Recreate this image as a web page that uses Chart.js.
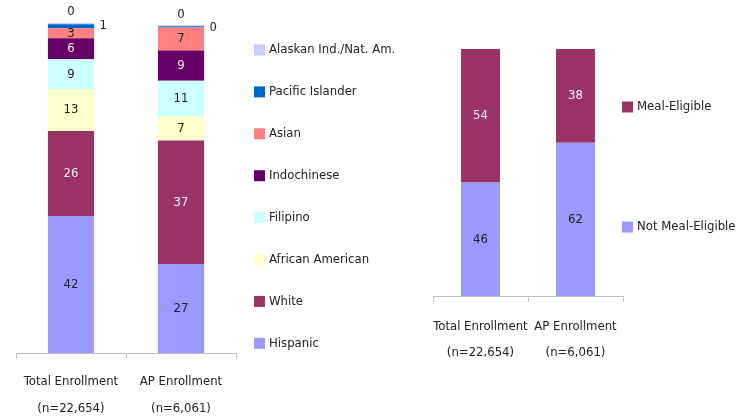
<!DOCTYPE html>
<html>
<head>
<meta charset="utf-8">
<script src="https://cdn.jsdelivr.net/npm/chart.js@4.4.1/dist/chart.umd.min.js"></script>
<style>
  html, body { margin: 0; padding: 0; background: #fff; overflow: hidden; width: 740px; height: 416px; }
  #left { position: absolute; left: 0; top: 0; }
  #right { position: absolute; left: 400px; top: 0; }
</style>
</head>
<body>
<canvas id="left" width="420" height="440"></canvas>
<canvas id="right" width="340" height="440"></canvas>
<script>
// categories (same two groups in both charts)
const groups = [['Total Enrollment', '(n=22,654)'], ['AP Enrollment', '(n=6,061)']];

// ethnicity shares, % (bottom to top of the stack)
const hispanic    = [41.5, 27.0];
const white       = [25.8, 37.4];
const africanAm   = [12.6, 7.3];
const filipino    = [9.1, 10.8];
const indochinese = [6.4, 9.2];
const asian       = [3.0, 6.9];
const pacificIsl  = [1.2, 0.4];
const alaskan     = [0.4, 0.3];

// meal eligibility, %
const notMealEligible = [46, 62];
const mealEligible    = [54, 38];

const FONT = '"DejaVu Sans Condensed", "Liberation Sans", sans-serif';
const FSIZE = 13;
const DARK = '#222222';
const LIGHT = '#f6eef3';

// value labels drawn on each segment
const segmentLabels = {
  id: 'segmentLabels',
  afterDatasetsDraw(chart) {
    const ctx = chart.ctx;
    ctx.save();
    ctx.font = FSIZE + 'px ' + FONT;
    ctx.textAlign = 'center';
    ctx.textBaseline = 'middle';
    chart.data.datasets.forEach((ds, i) => {
      const meta = chart.getDatasetMeta(i);
      meta.data.forEach((bar, j) => {
        const txt = String(Math.round(ds.data[j]));
        let x = bar.x, y = (bar.y + bar.base) / 2;
        ctx.fillStyle = ds.labelColor || DARK;
        if (ds.labelPos === 'above') {
          y = bar.y - 11;
          ctx.fillStyle = DARK;
        } else if (ds.labelPos === 'right') {
          x = bar.x + bar.width / 2 + 9;
          y = bar.y + 1;
          ctx.fillStyle = DARK;
        }
        ctx.fillText(txt, x, y);
      });
    });
    ctx.restore();
  }
};

// legend with fixed row spacing, top row = last dataset
const sideLegend = {
  id: 'sideLegend',
  afterDraw(chart, args, opts) {
    const ctx = chart.ctx;
    const n = chart.data.datasets.length;
    ctx.save();
    ctx.font = FSIZE + 'px ' + FONT;
    ctx.textBaseline = 'middle';
    ctx.textAlign = 'left';
    for (let k = 0; k < n; k++) {
      const ds = chart.data.datasets[n - 1 - k];
      const y = opts.top + k * opts.gap;
      ctx.fillStyle = ds.backgroundColor;
      ctx.fillRect(opts.x, y - 5.5, 11, 11);
      ctx.fillStyle = DARK;
      ctx.fillText(ds.label, opts.x + 15, y);
    }
    ctx.restore();
  }
};

function xAxis(lineH, pad) {
  return {
    stacked: true,
    offset: true,
    grid: { display: true, offset: true, drawOnChartArea: false, tickLength: 6, color: '#bfbfbf' },
    border: { display: true, color: '#bfbfbf' },
    ticks: { color: DARK, padding: pad, maxRotation: 0, autoSkip: false,
             font: { family: FONT, size: FSIZE, lineHeight: lineH } }
  };
}

new Chart(document.getElementById('left'), {
  type: 'bar',
  data: {
    labels: groups,
    datasets: [
      { label: 'Hispanic', data: hispanic, backgroundColor: '#9999ff' },
      { label: 'White', data: white, backgroundColor: '#993366', labelColor: LIGHT },
      { label: 'African American', data: africanAm, backgroundColor: '#ffffcc' },
      { label: 'Filipino', data: filipino, backgroundColor: '#ccffff' },
      { label: 'Indochinese', data: indochinese, backgroundColor: '#660066', labelColor: LIGHT },
      { label: 'Asian', data: asian, backgroundColor: '#ff8080' },
      { label: 'Pacific Islander', data: pacificIsl, backgroundColor: '#0066cc', labelPos: 'right' },
      { label: 'Alaskan Ind./Nat. Am.', data: alaskan, backgroundColor: '#ccccff', labelPos: 'above' }
    ]
  },
  options: {
    responsive: false,
    animation: false,
    events: [],
    datasets: { bar: { barPercentage: 0.42, categoryPercentage: 1 } },
    layout: { padding: { left: 16, right: 184, top: 23, bottom: 9 } },
    scales: {
      x: xAxis(27 / FSIZE, 9),
      y: { stacked: true, display: false, min: 0, max: 100 }
    },
    plugins: {
      legend: { display: false },
      tooltip: { enabled: false },
      sideLegend: { x: 254, top: 50, gap: 41.9 }
    }
  },
  plugins: [segmentLabels, sideLegend]
});

new Chart(document.getElementById('right'), {
  type: 'bar',
  data: {
    labels: groups,
    datasets: [
      { label: 'Not Meal-Eligible', data: notMealEligible, backgroundColor: '#9999ff' },
      { label: 'Meal-Eligible', data: mealEligible, backgroundColor: '#993366', labelColor: LIGHT }
    ]
  },
  options: {
    responsive: false,
    animation: false,
    events: [],
    datasets: { bar: { barPercentage: 0.41, categoryPercentage: 1 } },
    layout: { padding: { left: 33, right: 117, top: 49, bottom: 62 } },
    scales: {
      x: xAxis(26 / FSIZE, 12),
      y: { stacked: true, display: false, min: 0, max: 100 }
    },
    plugins: {
      legend: { display: false },
      tooltip: { enabled: false },
      sideLegend: { x: 222, top: 107, gap: 120 }
    }
  },
  plugins: [segmentLabels, sideLegend]
});
</script>
</body>
</html>
